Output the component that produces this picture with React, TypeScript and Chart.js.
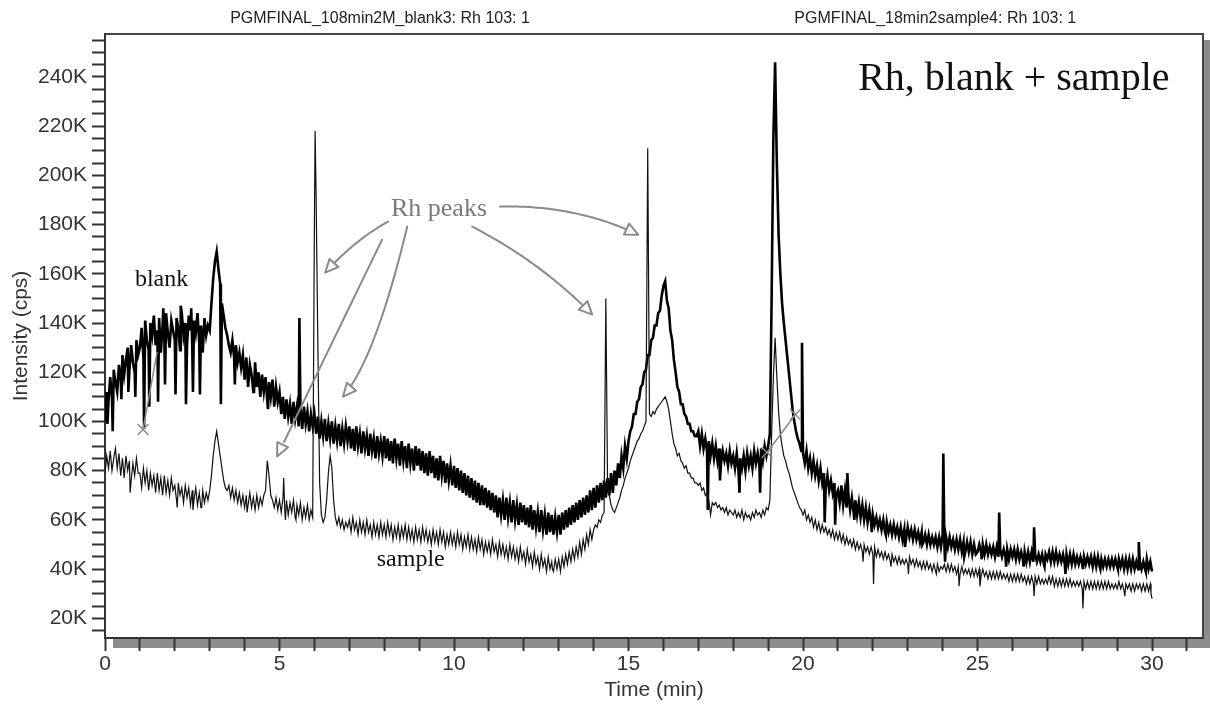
import React, { useEffect, useRef } from 'react';
import { Chart, registerables } from 'chart.js';

Chart.register(...registerables);

const SANS = '"Liberation Sans", Arial, sans-serif';
const SERIF = '"Liberation Serif", "Times New Roman", serif';

// sampling grid of both traces (minutes)
const gridStartMin = 0;
const gridStepMin = 0.05;

// blank trace, intensity in K cps, one value per 0.05 min, one row per minute (0..29) + the 30 min point
const blankValues = [
  100, 112, 108, 118, 110, 121, 116, 112, 123, 117, 127, 119, 125, 130, 121, 131, 124, 120, 133, 127,
  130, 138, 126, 141, 133, 129, 140, 135, 143, 131, 137, 142, 128, 139, 134, 144, 136, 130, 141, 137,
  133, 142, 138, 129, 144, 135, 140, 131, 143, 137, 130, 141, 136, 144, 132, 139, 128, 142, 135, 139,
  137, 148, 158, 165, 169, 162, 156, 148, 143, 138, 135, 131, 128, 133, 126, 131, 124, 128, 122, 127,
  117, 126, 114, 123, 119, 112, 124, 114, 120, 110, 119, 112, 118, 108, 116, 110, 117, 106, 114, 108,
  112, 103, 110, 101, 109, 102, 107, 99, 108, 101, 106, 98, 105, 97, 106, 99, 104, 96, 103, 98,
  103, 95, 102, 93, 100, 94, 101, 92, 99, 93, 100, 91, 98, 92, 99, 90, 97, 91, 98, 92,
  98, 89, 97, 88, 98, 90, 95, 87, 96, 89, 94, 86, 95, 88, 93, 85, 94, 87, 92, 86,
  94, 85, 93, 84, 92, 83, 93, 85, 91, 82, 92, 84, 90, 81, 91, 83, 89, 80, 90, 82,
  89, 80, 88, 79, 87, 78, 88, 79, 86, 77, 85, 76, 86, 78, 84, 75, 83, 76, 82, 74,
  82, 73, 81, 72, 80, 71, 79, 70, 78, 69, 77, 68, 76, 67, 75, 66, 74, 66, 73, 65,
  72, 64, 71, 63, 70, 61, 69, 62, 68, 60, 69, 61, 67, 59, 68, 60, 66, 58, 67, 59,
  66, 58, 65, 57, 66, 56, 64, 57, 63, 55, 64, 56, 62, 54, 63, 55, 62, 54, 61, 55,
  62, 54, 63, 56, 64, 57, 65, 58, 66, 59, 67, 60, 68, 61, 69, 62, 70, 63, 72, 64,
  73, 65, 74, 67, 75, 68, 76, 69, 77, 70, 79, 71, 80, 74, 83, 77, 86, 81, 90, 85,
  92, 96, 98, 103, 103, 108, 109, 114, 115, 120, 121, 127, 127, 133, 134, 139, 139, 144, 145, 151,
  155, 157, 149, 146, 137, 133, 125, 120, 114, 112, 107, 107, 103, 102, 99, 99, 96, 96, 94, 94,
  96, 90, 95, 89, 93, 88, 92, 86, 91, 85, 90, 84, 89, 83, 88, 84, 87, 82, 88, 83,
  86, 81, 87, 80, 85, 81, 86, 80, 87, 82, 86, 81, 88, 83, 87, 82, 89, 84, 90, 86,
  90, 95, 150, 215, 246, 205, 176, 160, 148, 140, 133, 126, 119, 112, 105, 100, 96, 93, 91, 88,
  87, 83, 88, 81, 85, 79, 84, 78, 82, 76, 81, 75, 79, 73, 78, 72, 76, 71, 75, 70,
  72, 67, 74, 66, 72, 65, 70, 64, 69, 63, 68, 62, 67, 61, 66, 60, 65, 59, 64, 59,
  62, 58, 61, 57, 60, 56, 60, 55, 59, 55, 58, 54, 58, 54, 57, 53, 57, 52, 56, 52,
  57, 53, 56, 52, 56, 52, 55, 51, 55, 51, 54, 50, 54, 50, 53, 50, 53, 49, 53, 49,
  54, 50, 53, 49, 53, 49, 52, 48, 52, 48, 52, 47, 51, 47, 51, 47, 51, 46, 50, 46,
  47, 50, 47, 50, 46, 50, 46, 49, 46, 49, 45, 49, 45, 48, 45, 48, 45, 48, 44, 48,
  45, 48, 44, 48, 44, 47, 44, 47, 43, 47, 43, 47, 43, 46, 43, 46, 43, 46, 42, 46,
  44, 47, 43, 47, 43, 47, 43, 46, 43, 46, 42, 46, 42, 46, 42, 46, 42, 45, 42, 45,
  42, 45, 42, 45, 42, 45, 41, 45, 41, 45, 41, 44, 41, 44, 41, 44, 41, 44, 41, 44,
  41, 44, 41, 44, 40, 44, 40, 44, 40, 44, 40, 43, 40, 43, 40, 43, 40, 44, 40, 43,
  39,
];

// narrow spikes of the blank trace (min, K cps)
const blankSpikeTimes = [
  0.07, 0.22, 0.47, 0.67, 0.87, 1.12, 1.27, 1.52, 1.67, 1.72, 2.02, 2.17, 2.32, 2.47, 2.52, 2.72,
  3.32, 3.72, 4.27, 4.67, 5.57, 17.27, 17.62, 18.18, 18.77, 19.97, 20.62, 20.92, 21.27, 21.47,
  21.97, 22.37, 22.92, 23.42, 24.02, 24.07, 24.62, 25.12, 25.62, 25.82, 26.32, 26.62, 26.92,
  27.52, 28.02, 28.52, 29.02, 29.62, 29.82,
];
const blankSpikeValues = [
  99, 96, 109, 112, 110, 97, 106, 108, 146, 115, 111, 147, 107, 146, 112, 111,
  107, 115, 112, 105, 142, 64, 76, 71, 71, 132, 59, 58, 79, 60,
  55, 54, 49, 50, 87, 43, 45, 44, 63, 41, 41, 57, 41,
  38, 40, 40, 40, 51, 39,
];

// sample trace, intensity in K cps, one value per 0.05 min, one row per minute (0..29) + the 30 min point
const sampleValues = [
  79, 86, 81, 88, 80, 85, 89, 81, 87, 78, 85, 77, 86, 80, 84, 76, 83, 78, 85, 79,
  79, 73, 81, 75, 80, 72, 79, 74, 78, 71, 79, 72, 77, 70, 78, 71, 76, 70, 77, 72,
  74, 68, 75, 70, 73, 67, 74, 69, 73, 66, 72, 68, 73, 66, 71, 65, 72, 67, 71, 68,
  72, 78, 86, 92, 96, 91, 86, 81, 76, 73, 72, 74, 69, 73, 68, 72, 67, 71, 66, 70,
  65, 70, 66, 71, 65, 69, 64, 70, 65, 69, 66, 70, 72, 84, 78, 70, 68, 65, 69, 64,
  68, 63, 69, 64, 68, 62, 67, 63, 68, 61, 66, 62, 67, 60, 65, 61, 66, 60, 64, 61,
  180, 190, 130, 75, 62, 59, 61, 68, 79, 86, 81, 68, 61, 58, 61, 57, 60, 56, 59, 57,
  60, 55, 61, 56, 59, 54, 60, 55, 59, 54, 60, 55, 58, 53, 59, 54, 58, 53, 59, 54,
  58, 53, 59, 54, 58, 52, 57, 53, 58, 52, 57, 53, 58, 52, 57, 52, 56, 51, 57, 52,
  56, 51, 57, 52, 56, 51, 55, 50, 56, 51, 55, 50, 56, 51, 55, 49, 54, 50, 55, 50,
  54, 49, 55, 50, 54, 48, 53, 49, 54, 48, 53, 48, 52, 47, 53, 48, 52, 46, 51, 47,
  51, 46, 52, 47, 50, 45, 51, 46, 50, 45, 49, 44, 50, 45, 49, 44, 48, 43, 49, 44,
  47, 42, 48, 43, 46, 41, 47, 42, 45, 40, 46, 41, 44, 39, 45, 40, 43, 39, 44, 40,
  44, 39, 45, 41, 46, 42, 47, 43, 48, 44, 49, 45, 51, 46, 52, 48, 54, 50, 56, 52,
  56, 58, 57, 60, 59, 62, 63, 150, 74, 70, 66, 64, 63, 65, 67, 69, 72, 74, 77, 79,
  81, 84, 86, 88, 90, 92, 93, 95, 96, 98, 100, 211, 103, 102, 104, 103, 105, 106, 107, 108,
  109, 110, 108, 105, 100, 95, 91, 89, 86, 87, 84, 83, 81, 82, 79, 79, 77, 77, 75, 75,
  74, 75, 72, 73, 70, 71, 68, 62, 67, 66, 67, 65, 66, 64, 65, 63, 65, 62, 64, 63,
  62, 64, 61, 63, 61, 64, 60, 63, 61, 62, 60, 63, 61, 64, 62, 63, 61, 64, 62, 65,
  64, 68, 95, 118, 134, 118, 104, 95, 90, 86, 84, 81, 79, 76, 73, 71, 69, 67, 65, 64,
  62, 64, 60, 62, 59, 61, 57, 60, 56, 59, 55, 58, 55, 57, 54, 56, 53, 56, 52, 55,
  52, 55, 51, 54, 50, 53, 50, 52, 49, 52, 48, 51, 48, 50, 47, 50, 47, 49, 46, 49,
  46, 49, 45, 48, 45, 47, 44, 47, 44, 46, 43, 46, 43, 45, 42, 45, 42, 44, 42, 44,
  42, 45, 42, 44, 41, 44, 41, 43, 40, 43, 40, 43, 40, 42, 39, 42, 39, 42, 39, 41,
  40, 42, 39, 42, 39, 42, 39, 41, 38, 41, 38, 41, 38, 40, 38, 40, 37, 40, 37, 40,
  37, 40, 37, 40, 37, 39, 36, 39, 36, 39, 36, 39, 36, 39, 36, 38, 36, 38, 35, 38,
  35, 38, 35, 38, 35, 38, 35, 37, 34, 37, 34, 37, 34, 37, 34, 37, 34, 36, 34, 36,
  34, 37, 34, 37, 33, 36, 33, 36, 33, 36, 33, 36, 33, 36, 33, 35, 33, 35, 33, 35,
  32, 35, 32, 35, 32, 35, 32, 35, 32, 35, 32, 35, 32, 35, 32, 35, 32, 34, 32, 34,
  32, 35, 32, 34, 31, 34, 32, 34, 31, 34, 31, 34, 32, 34, 31, 34, 31, 34, 31, 34,
  28,
];

// narrow spikes of the sample trace (min, K cps)
const sampleSpikeTimes = [
  0.72, 2.07, 2.52, 2.77, 4.07, 5.12, 5.17, 5.47, 6.02, 12.82,
  21.72, 22.02, 22.52, 23.02, 23.82, 24.47, 25.07, 26.62, 28.02, 29.22, 29.97,
];
const sampleSpikeValues = [
  71, 65, 64, 65, 63, 77, 60, 60, 218, 40,
  43, 34, 41, 38, 38, 33, 33, 29, 24, 29, 30,
];

const xTickLabels = [0, 5, 10, 15, 20, 25, 30];
const yTickLabels = [20, 40, 60, 80, 100, 120, 140, 160, 180, 200, 220, 240];

const panelTitles = [
  { text: 'PGMFINAL_108min2M_blank3: Rh 103: 1', t: 7.88 },
  { text: 'PGMFINAL_18min2sample4: Rh 103: 1', t: 23.79 },
];

const notes = [
  { text: 'Rh, blank + sample', t: 26.04, v: 234.8, size: 40, color: '#111' },
  { text: 'blank', t: 1.62, v: 154.9, size: 24, color: '#111' },
  { text: 'sample', t: 8.76, v: 41.1, size: 24, color: '#111' },
  { text: 'Rh peaks', t: 9.57, v: 183.3, size: 26, color: '#7a7a7a' },
];

const arrows = [
  { from: [8.11, 181.2], via: [7.17, 173.9], to: [6.31, 160.5] },
  { from: [7.94, 173.9], via: [6.43, 129.8], to: [4.93, 85.8] },
  { from: [8.66, 179.2], via: [7.74, 125.2], to: [6.82, 110.1] },
  { from: [10.52, 179.2], via: [12.47, 164.9], to: [13.96, 143.4] },
  { from: [11.32, 187.3], via: [13.47, 188.1], to: [15.28, 175.9] },
];

const markLines = [
  { from: [1.09, 96.7], to: [1.49, 128.0] },
  { from: [18.97, 87.4], to: [19.78, 102.8] },
];
const crossMarks = [
  [1.09, 96.7],
  [19.78, 102.8],
  [18.97, 87.4],
];

function buildSeries(values: number[], spikeT: number[], spikeV: number[]) {
  const pts = values.map((v, i) => ({ x: +(gridStartMin + i * gridStepMin).toFixed(3), y: v }));
  spikeT.forEach((t, k) => pts.push({ x: t, y: spikeV[k] }));
  pts.sort((a, b) => a.x - b.x);
  return pts;
}

const decorPlugin = {
  id: 'decor',
  beforeDraw(chart: any) {
    const { ctx, chartArea: a } = chart;
    ctx.save();
    ctx.fillStyle = '#8c8c8c';
    ctx.fillRect(a.left + 8, a.bottom + 1, chart.width - a.left - 8, 9);
    ctx.fillRect(a.right + 1, a.top + 6, chart.width - a.right - 1, a.bottom - a.top + 4);
    ctx.restore();
  },
  afterDraw(chart: any) {
    const { ctx, chartArea: a } = chart;
    const xs = chart.scales.x;
    const ys = chart.scales.y;
    const px = (t: number) => xs.getPixelForValue(t);
    const py = (v: number) => ys.getPixelForValue(v);
    ctx.save();
    ctx.strokeStyle = '#444';
    ctx.lineWidth = 2;
    ctx.beginPath();
    ctx.moveTo(a.left, a.top);
    ctx.lineTo(a.right, a.top);
    ctx.lineTo(a.right, a.bottom);
    ctx.stroke();

    ctx.fillStyle = '#222';
    ctx.font = `16px ${SANS}`;
    ctx.textAlign = 'center';
    ctx.textBaseline = 'middle';
    panelTitles.forEach((p) => ctx.fillText(p.text, px(p.t), a.top - 15));

    ctx.textBaseline = 'alphabetic';
    notes.forEach((n) => {
      ctx.fillStyle = n.color;
      ctx.font = `${n.size}px ${SERIF}`;
      ctx.fillText(n.text, px(n.t), py(n.v));
    });

    ctx.strokeStyle = '#8a8a8a';
    ctx.lineWidth = 2;
    ctx.lineCap = 'round';
    ctx.lineJoin = 'round';
    arrows.forEach((ar) => {
      const x0 = px(ar.from[0]), y0 = py(ar.from[1]);
      const x1 = px(ar.via[0]), y1 = py(ar.via[1]);
      const x2 = px(ar.to[0]), y2 = py(ar.to[1]);
      const headLen = 13;
      const half = 6;
      ctx.beginPath();
      ctx.moveTo(x0, y0);
      for (let i = 1; i <= 60; i++) {
        const s = i / 60;
        const bx = (1 - s) * (1 - s) * x0 + 2 * (1 - s) * s * x1 + s * s * x2;
        const by = (1 - s) * (1 - s) * y0 + 2 * (1 - s) * s * y1 + s * s * y2;
        if (Math.hypot(x2 - bx, y2 - by) < headLen) break;
        ctx.lineTo(bx, by);
      }
      ctx.stroke();
      const ang = Math.atan2(y2 - y1, x2 - x1);
      const bx = x2 - headLen * Math.cos(ang);
      const by = y2 - headLen * Math.sin(ang);
      const ox = -Math.sin(ang) * half;
      const oy = Math.cos(ang) * half;
      ctx.beginPath();
      ctx.moveTo(x2, y2);
      ctx.lineTo(bx + ox, by + oy);
      ctx.lineTo(bx - ox, by - oy);
      ctx.closePath();
      ctx.stroke();
    });

    ctx.lineWidth = 1.5;
    markLines.forEach((m) => {
      ctx.beginPath();
      ctx.moveTo(px(m.from[0]), py(m.from[1]));
      ctx.lineTo(px(m.to[0]), py(m.to[1]));
      ctx.stroke();
    });
    crossMarks.forEach((c) => {
      const cx = px(c[0]);
      const cy = py(c[1]);
      ctx.beginPath();
      ctx.moveTo(cx - 5, cy - 5);
      ctx.lineTo(cx + 5, cy + 5);
      ctx.moveTo(cx + 5, cy - 5);
      ctx.lineTo(cx - 5, cy + 5);
      ctx.stroke();
    });
    ctx.restore();
  },
};

export default function App() {
  const ref = useRef<HTMLCanvasElement>(null);
  useEffect(() => {
    const canvas = ref.current;
    if (!canvas) return;
    const chart = new Chart(canvas, {
      type: 'line',
      data: {
        datasets: [
          {
            label: 'sample',
            data: buildSeries(sampleValues, sampleSpikeTimes, sampleSpikeValues),
            borderColor: '#111',
            borderWidth: 1.2,
            pointRadius: 0,
            tension: 0,
            fill: false,
          },
          {
            label: 'blank',
            data: buildSeries(blankValues, blankSpikeTimes, blankSpikeValues),
            borderColor: '#000',
            borderWidth: 2.6,
            pointRadius: 0,
            tension: 0,
            fill: false,
          },
        ],
      },
      options: {
        animation: false,
        responsive: false,
        devicePixelRatio: 1,
        layout: { padding: { top: 34, right: 7, bottom: 0, left: 0 } },
        plugins: {
          legend: { display: false },
          tooltip: { enabled: false },
          title: { display: false },
        },
        scales: {
          x: {
            type: 'linear',
            min: 0,
            max: 31.46,
            afterFit: (s: any) => {
              s.height = 69;
            },
            border: { display: true, color: '#333', width: 2 },
            grid: {
              display: true,
              drawOnChartArea: false,
              drawTicks: true,
              tickLength: 13,
              tickColor: '#333',
              tickWidth: 2,
            },
            ticks: {
              stepSize: 1,
              autoSkip: false,
              includeBounds: false,
              maxRotation: 0,
              padding: 1,
              color: '#333',
              font: { family: SANS, size: 21 },
              callback: (v: any) => (xTickLabels.includes(Number(v)) ? String(v) : ''),
            },
            title: {
              display: true,
              text: 'Time (min)',
              color: '#333',
              font: { family: SANS, size: 21 },
              padding: { top: 0, bottom: 4 },
            },
          },
          y: {
            type: 'linear',
            min: 12,
            max: 257.45,
            afterFit: (s: any) => {
              s.width = 105;
            },
            border: { display: true, color: '#333', width: 2 },
            grid: {
              display: true,
              drawOnChartArea: false,
              drawTicks: true,
              tickLength: 13,
              tickColor: '#333',
              tickWidth: 2,
            },
            ticks: {
              stepSize: 5,
              autoSkip: false,
              includeBounds: false,
              padding: 5,
              color: '#333',
              font: { family: SANS, size: 21 },
              callback: (v: any) => (yTickLabels.includes(Number(v)) ? `${v}K` : ''),
            },
            title: {
              display: true,
              text: 'Intensity (cps)',
              color: '#333',
              font: { family: SANS, size: 21 },
              padding: { top: 9, bottom: 0 },
            },
          },
        },
      },
      plugins: [decorPlugin],
    } as any);
    return () => chart.destroy();
  }, []);
  return (
    <div style={{ position: 'absolute', left: 0, top: 0, width: 1210, height: 707, background: '#fff' }}>
      <canvas ref={ref} width={1210} height={707} style={{ display: 'block', width: 1210, height: 707 }} />
    </div>
  );
}
